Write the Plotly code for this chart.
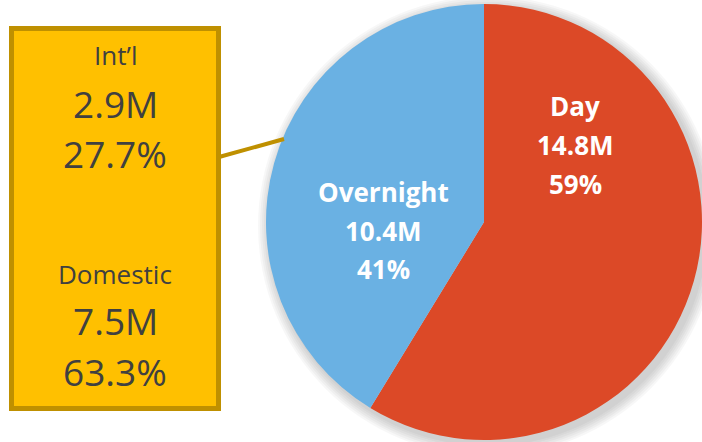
import plotly.graph_objects as go

# ---- data ----
segments = ["Day", "Overnight"]
segment_values = [14.8, 10.4]          # millions
segment_colors = ["#DC4927", "#6AB1E3"]

sub_labels = ["Int\u2019l", "Domestic"]
sub_values = [2.9, 7.5]                # millions
sub_pcts = [27.7, 63.3]

W, H = 702, 442
total = sum(segment_values)

def px(x):
    return x / W

def py(y):
    return 1 - y / H

fig = go.Figure()
fig.add_trace(go.Pie(
    labels=segments,
    values=segment_values,
    marker=dict(colors=segment_colors, line=dict(width=0)),
    sort=False,
    direction="clockwise",
    rotation=0,
    textinfo="none",
    hoverinfo="label+value+percent",
    showlegend=False,
    domain=dict(x=[px(266), 1.0], y=[py(441), py(3)]),
))

shapes = []
# soft shadow around pie
cx, cy, r = 486, 223, 218
for i, extra in enumerate([2, 4, 6, 8, 10, 12]):
    rr = r + extra
    shapes.append(dict(type="circle", xref="paper", yref="paper",
                       x0=px(cx + 2 - rr), x1=px(cx + 2 + rr),
                       y0=py(cy + 3 + rr), y1=py(cy + 3 - rr),
                       fillcolor="rgba(0,0,0,0.03)", line=dict(width=0),
                       layer="below"))
# yellow callout box
shapes.append(dict(type="rect", xref="paper", yref="paper",
                   x0=px(11.5), x1=px(218.5), y0=py(408.5), y1=py(28.5),
                   fillcolor="#FFC000", line=dict(color="#BF9000", width=5),
                   layer="above"))
# connector line
shapes.append(dict(type="line", xref="paper", yref="paper",
                   x0=px(219), y0=py(157), x1=px(284), y1=py(139),
                   line=dict(color="#BF9000", width=4), layer="above"))

annotations = []
def add_text(text, x, y, size, color, bold=False):
    annotations.append(dict(
        text=f"<b>{text}</b>" if bold else text,
        x=px(x), y=py(y), xref="paper", yref="paper",
        xanchor="center", yanchor="middle", showarrow=False,
        font=dict(family="Open Sans", size=size, color=color)))

# callout text
box_x = 115
rows = [(55, 103, 153), (274, 320, 371)]
for lab, val, pct, (y1, y2, y3) in zip(sub_labels, sub_values, sub_pcts, rows):
    add_text(lab, box_x, y1, 26, "#404040")
    add_text(f"{val:.1f}M", box_x, y2, 37, "#404040")
    add_text(f"{pct:.1f}%", box_x, y3, 37, "#404040")

# pie labels
label_pos = [(575, (106, 145, 184)), (383, (192, 231, 269))]
for seg, val, (lx, (l1, l2, l3)) in zip(segments, segment_values, label_pos):
    add_text(seg, lx, l1, 26, "white", bold=True)
    add_text(f"{val:.1f}M", lx, l2, 26, "white", bold=True)
    add_text(f"{round(val / total * 100):.0f}%", lx, l3, 26, "white", bold=True)

fig.update_layout(
    width=W, height=H,
    margin=dict(l=0, r=0, t=0, b=0),
    paper_bgcolor="white", plot_bgcolor="white",
    shapes=shapes, annotations=annotations,
)

fig.write_html("out.html")
